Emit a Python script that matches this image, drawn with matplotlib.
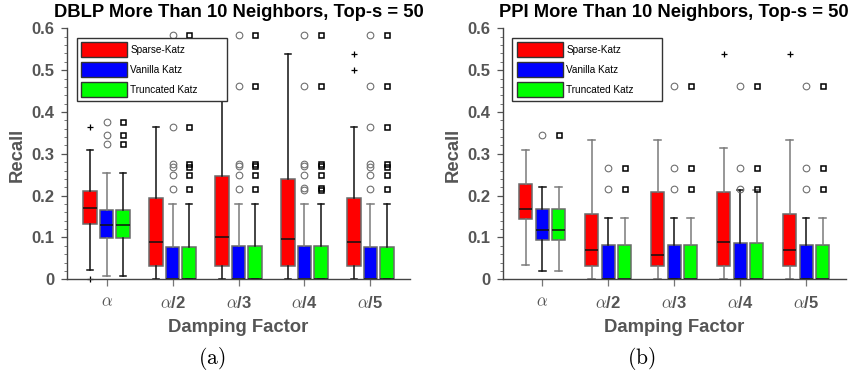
import matplotlib
matplotlib.use("Agg")
import matplotlib.pyplot as plt
from matplotlib.patches import Patch
from matplotlib.ticker import MultipleLocator

plt.rcParams['font.family'] = ['Liberation Sans', 'DejaVu Sans']
plt.rcParams['mathtext.fontset'] = 'cm'

# ---------------- data ----------------
categories = [r'$\alpha$', r'$\alpha$/2', r'$\alpha$/3', r'$\alpha$/4', r'$\alpha$/5']
methods = ['Sparse-Katz', 'Vanilla Katz', 'Truncated Katz']
titles = ['DBLP More Than 10 Neighbors, Top-s = 50', 'PPI More Than 10 Neighbors, Top-s = 50']
captions = ['(a)', '(b)']

# DBLP
dblp_sparse_q1 = [0.132, 0.032, 0.032, 0.032, 0.032]
dblp_sparse_med = [0.170, 0.088, 0.102, 0.097, 0.088]
dblp_sparse_q3 = [0.211, 0.194, 0.246, 0.240, 0.194]
dblp_sparse_lo = [0.022, 0.0, 0.0, 0.0, 0.0]
dblp_sparse_hi = [0.308, 0.365, 0.540, 0.539, 0.365]
dblp_sparse_fliers = [[0.364, 0.0], [], [], [], [0.539, 0.500]]

dblp_vanilla_q1 = [0.098, 0.0, 0.0, 0.0, 0.0]
dblp_vanilla_med = [0.130, 0.0, 0.0, 0.0, 0.0]
dblp_vanilla_q3 = [0.165, 0.078, 0.080, 0.080, 0.078]
dblp_vanilla_lo = [0.009, 0.0, 0.0, 0.0, 0.0]
dblp_vanilla_hi = [0.255, 0.181, 0.181, 0.181, 0.181]
dblp_vanilla_fliers = [[0.377, 0.344, 0.324],
                       [0.583, 0.364, 0.276, 0.268, 0.250, 0.217],
                       [0.583, 0.462, 0.276, 0.270, 0.250, 0.217],
                       [0.583, 0.462, 0.276, 0.270, 0.250, 0.219, 0.214],
                       [0.583, 0.462, 0.364, 0.276, 0.268, 0.250, 0.217]]

dblp_trunc_q1 = [0.098, 0.0, 0.0, 0.0, 0.0]
dblp_trunc_med = [0.130, 0.0, 0.0, 0.0, 0.0]
dblp_trunc_q3 = [0.165, 0.078, 0.080, 0.080, 0.078]
dblp_trunc_lo = [0.009, 0.0, 0.0, 0.0, 0.0]
dblp_trunc_hi = [0.255, 0.181, 0.181, 0.181, 0.181]
dblp_trunc_fliers = [[0.377, 0.344, 0.324],
                     [0.583, 0.364, 0.276, 0.268, 0.250, 0.217],
                     [0.583, 0.462, 0.276, 0.270, 0.250, 0.217],
                     [0.583, 0.462, 0.276, 0.270, 0.250, 0.219, 0.214],
                     [0.583, 0.462, 0.364, 0.276, 0.268, 0.250, 0.217]]

# PPI
ppi_sparse_q1 = [0.145, 0.032, 0.032, 0.032, 0.032]
ppi_sparse_med = [0.169, 0.069, 0.059, 0.088, 0.069]
ppi_sparse_q3 = [0.227, 0.156, 0.209, 0.209, 0.156]
ppi_sparse_lo = [0.033, 0.0, 0.0, 0.0, 0.0]
ppi_sparse_hi = [0.308, 0.333, 0.333, 0.314, 0.333]
ppi_sparse_fliers = [[], [], [], [0.539], [0.539]]

ppi_vanilla_q1 = [0.095, 0.0, 0.0, 0.0, 0.0]
ppi_vanilla_med = [0.117, 0.0, 0.0, 0.0, 0.0]
ppi_vanilla_q3 = [0.168, 0.083, 0.083, 0.087, 0.083]
ppi_vanilla_lo = [0.019, 0.0, 0.0, 0.0, 0.0]
ppi_vanilla_hi = [0.221, 0.147, 0.147, 0.214, 0.147]
ppi_vanilla_fliers = [[0.345], [0.267, 0.217], [0.462, 0.267, 0.217],
                      [0.462, 0.267, 0.217], [0.462, 0.267, 0.217]]

ppi_trunc_q1 = [0.095, 0.0, 0.0, 0.0, 0.0]
ppi_trunc_med = [0.117, 0.0, 0.0, 0.0, 0.0]
ppi_trunc_q3 = [0.168, 0.083, 0.083, 0.087, 0.083]
ppi_trunc_lo = [0.019, 0.0, 0.0, 0.0, 0.0]
ppi_trunc_hi = [0.221, 0.147, 0.147, 0.214, 0.147]
ppi_trunc_fliers = [[0.345], [0.267, 0.217], [0.462, 0.267, 0.217],
                    [0.462, 0.267, 0.217], [0.462, 0.267, 0.217]]

panels = [
    [(dblp_sparse_q1, dblp_sparse_med, dblp_sparse_q3, dblp_sparse_lo, dblp_sparse_hi, dblp_sparse_fliers),
     (dblp_vanilla_q1, dblp_vanilla_med, dblp_vanilla_q3, dblp_vanilla_lo, dblp_vanilla_hi, dblp_vanilla_fliers),
     (dblp_trunc_q1, dblp_trunc_med, dblp_trunc_q3, dblp_trunc_lo, dblp_trunc_hi, dblp_trunc_fliers)],
    [(ppi_sparse_q1, ppi_sparse_med, ppi_sparse_q3, ppi_sparse_lo, ppi_sparse_hi, ppi_sparse_fliers),
     (ppi_vanilla_q1, ppi_vanilla_med, ppi_vanilla_q3, ppi_vanilla_lo, ppi_vanilla_hi, ppi_vanilla_fliers),
     (ppi_trunc_q1, ppi_trunc_med, ppi_trunc_q3, ppi_trunc_lo, ppi_trunc_hi, ppi_trunc_fliers)],
]

# ---------------- style ----------------
face_colors = ['#ff0000', '#0000ff', '#00ff00']
offsets = [-0.25, 0.0, 0.25]
flier_styles = [dict(marker='+', markeredgecolor='black', markersize=5, markeredgewidth=0.9,
                     linestyle='none', clip_on=False),
                dict(marker='o', markerfacecolor='none', markeredgecolor='#707070', markersize=4.8,
                     markeredgewidth=0.8, linestyle='none', clip_on=False),
                dict(marker='s', markerfacecolor='none', markeredgecolor='black', markersize=3.6,
                     markeredgewidth=1.1, linestyle='none', clip_on=False)]
whisker_colors = [['#111111', '#7a7a7a', '#111111'],
                  ['#7a7a7a', '#111111', '#7a7a7a']]
gray_txt = '#555555'
axes_pos = [[67 / 848, 1 - 279.3 / 373, 343 / 848, 251 / 373],
            [502.7 / 848, 1 - 279.3 / 373, 343 / 848, 251 / 373]]
legend_anchor = [(0.0283, 0.5, 0.4373, 0.4626),
                 (0.0283, 0.5, 0.4373, 0.4626)]
caption_x = [211.5 / 848, 641.5 / 848]

fig = plt.figure(figsize=(8.48, 3.73), dpi=100)
positions = list(range(1, len(categories) + 1))

for p, series in enumerate(panels):
    ax = fig.add_axes(axes_pos[p])
    for m, (q1, med, q3, lo, hi, fl) in enumerate(series):
        stats = []
        for i in range(len(categories)):
            stats.append(dict(q1=q1[i], med=med[i], q3=q3[i], whislo=lo[i], whishi=hi[i], fliers=fl[i]))
        wc = whisker_colors[p][m]
        ax.bxp(stats, positions=[x + offsets[m] for x in positions], widths=0.2,
               capwidths=0.1, patch_artist=True, showfliers=True,
               boxprops=dict(facecolor=face_colors[m], edgecolor='#6a6a6a', linewidth=1.1),
               medianprops=dict(color='#111111', linewidth=1.1),
               whiskerprops=dict(color=wc, linewidth=1.1),
               capprops=dict(color=wc, linewidth=1.1),
               flierprops=flier_styles[m], manage_ticks=False)
    ax.set_xlim(0.4, 5.6)
    ax.set_ylim(0, 0.6)
    ax.set_xticks(positions)
    ax.set_xticklabels(categories, fontsize=12, fontweight='bold', color=gray_txt)
    ax.yaxis.set_minor_locator(MultipleLocator(0.02))
    ax.set_yticks([0, 0.1, 0.2, 0.3, 0.4, 0.5, 0.6])
    ax.set_yticklabels(['0', '0.1', '0.2', '0.3', '0.4', '0.5', '0.6'],
                       fontsize=12, fontweight='bold', color=gray_txt)
    ax.tick_params(axis='y', which='major', direction='out', length=4.5, width=0.9,
                   color='#555555', pad=4.5)
    ax.tick_params(axis='y', which='minor', direction='out', length=2.3, width=0.7, color='#777777')
    ax.tick_params(axis='x', which='major', direction='out', length=5, width=0.9,
                   color='#777777', pad=6)
    for s in ['top', 'right']:
        ax.spines[s].set_visible(False)
    for s in ['left', 'bottom']:
        ax.spines[s].set_color('#444444')
        ax.spines[s].set_linewidth(1.0)
    ax.set_title(titles[p], fontsize=13.2, fontweight='bold', color='black', pad=8)
    ax.set_xlabel('Damping Factor', fontsize=13.3, fontweight='bold', color=gray_txt, va='center')
    ax.xaxis.set_label_coords(0.5, -0.194)
    ax.set_ylabel('Recall', fontsize=13.3, fontweight='bold', color=gray_txt, va='center')
    ax.yaxis.set_label_coords(-0.145, 0.495)

    handles = [Patch(facecolor=face_colors[k], edgecolor='#333333', linewidth=1.0, label=methods[k])
               for k in range(3)]
    leg = ax.legend(handles=handles, loc='upper left', bbox_to_anchor=legend_anchor[p],
                    mode='expand', fontsize=7.2, handlelength=4.6, handleheight=1.93,
                    labelspacing=0.5, borderpad=0.42, handletextpad=0.35, borderaxespad=0,
                    fancybox=False, framealpha=1, edgecolor='#333333')
    leg.get_frame().set_linewidth(1.0)
    fig.text(caption_x[p], 1 - 358 / 373, r'$\mathrm{' + captions[p] + '}$', fontsize=15.5,
             ha='center', va='center', color='black')

fig.savefig('out.png', dpi=100)
